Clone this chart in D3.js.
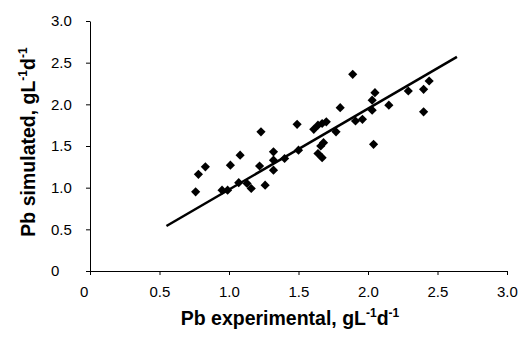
<!DOCTYPE html>
<html>
<head>
<meta charset="utf-8">
<script src="https://cdn.jsdelivr.net/npm/d3@7"></script>
<style>
  body { margin: 0; background: #fff; }
  text { font-family: "Liberation Sans", Arial, sans-serif; fill: #000; }
</style>
</head>
<body>
<div id="chart"></div>
<script>
// experimental vs simulated Pb values (gL-1d-1)
const pbExperimental = [0.76, 0.78, 0.83, 0.95, 0.99, 1.01, 1.08, 1.07, 1.13, 1.16, 1.23, 1.22, 1.26,
  1.32, 1.32, 1.32, 1.40, 1.49, 1.50, 1.61, 1.64, 1.67, 1.70, 1.77, 1.68, 1.66, 1.64, 1.67,
  1.80, 1.89, 1.91, 1.96, 2.03, 2.03, 2.05, 2.04, 2.15, 2.29, 2.40, 2.44, 2.40];
const pbSimulated = [0.95, 1.16, 1.25, 0.97, 0.97, 1.27, 1.39, 1.06, 1.05, 0.99, 1.67, 1.26, 1.03,
  1.43, 1.33, 1.21, 1.35, 1.76, 1.45, 1.70, 1.75, 1.77, 1.79, 1.67, 1.54, 1.50, 1.41, 1.36,
  1.96, 2.36, 1.80, 1.82, 1.93, 2.05, 2.14, 1.52, 1.99, 2.16, 2.18, 2.28, 1.91];

// fitted line end points
const fitX = [0.55, 2.64];
const fitY = [0.54, 2.57];

const xTicks = [0, 0.5, 1.0, 1.5, 2.0, 2.5, 3.0];
const yTicks = [0, 0.5, 1.0, 1.5, 2.0, 2.5, 3.0];

const width = 522, height = 337;

const svg = d3.select("#chart")
  .append("svg")
  .attr("width", width)
  .attr("height", height);

const x = d3.scaleLinear().domain([0, 3]).range([90, 507]);
const y = d3.scaleLinear().domain([0, 3]).range([271, 21]);

const fmt = d => d === 0 ? "0" : d3.format(".1f")(d);

// y axis (labels left-aligned like the original)
const gy = svg.append("g")
  .attr("transform", "translate(90,0)")
  .call(d3.axisLeft(y).tickValues(yTicks).tickSize(4).tickSizeOuter(0).tickFormat(fmt));
gy.selectAll("text")
  .attr("font-size", 15)
  .attr("text-anchor", "start")
  .attr("x", -39);

// x axis
const gx = svg.append("g")
  .attr("transform", "translate(0,271)")
  .call(d3.axisBottom(x).tickValues(xTicks).tickSize(4).tickSizeOuter(0).tickFormat(fmt));
gx.selectAll("text")
  .attr("font-size", 15)
  .attr("text-anchor", "start")
  .attr("x", -10.5)
  .attr("y", 15);

svg.selectAll(".domain, .tick line").attr("stroke", "#000").attr("stroke-width", 1);

// fitted line
svg.append("line")
  .attr("x1", x(fitX[0])).attr("y1", y(fitY[0]))
  .attr("x2", x(fitX[1])).attr("y2", y(fitY[1]))
  .attr("stroke", "#000")
  .attr("stroke-width", 2.5);

// points
const diamond = d3.symbol().type(d3.symbolSquare).size(42);
svg.selectAll("path.pt")
  .data(d3.range(pbExperimental.length))
  .enter()
  .append("path")
  .attr("class", "pt")
  .attr("d", diamond)
  .attr("transform", i => `translate(${x(pbExperimental[i])},${y(pbSimulated[i])}) rotate(45)`)
  .attr("fill", "#000");

// axis titles with superscripts
function title(sel, main) {
  sel.append("tspan").text(main + ", gL");
  sel.append("tspan").attr("font-size", 12).attr("dy", -8).text("-1");
  sel.append("tspan").attr("dy", 8).text("d");
  sel.append("tspan").attr("font-size", 12).attr("dy", -8).text("-1");
}

svg.append("text")
  .attr("x", 290).attr("y", 325)
  .attr("text-anchor", "middle")
  .attr("font-size", 19.5)
  .attr("font-weight", "bold")
  .call(title, "Pb experimental");

svg.append("text")
  .attr("transform", "translate(35,142) rotate(-90)")
  .attr("text-anchor", "middle")
  .attr("font-size", 19.5)
  .attr("font-weight", "bold")
  .call(title, "Pb simulated");
</script>
</body>
</html>
